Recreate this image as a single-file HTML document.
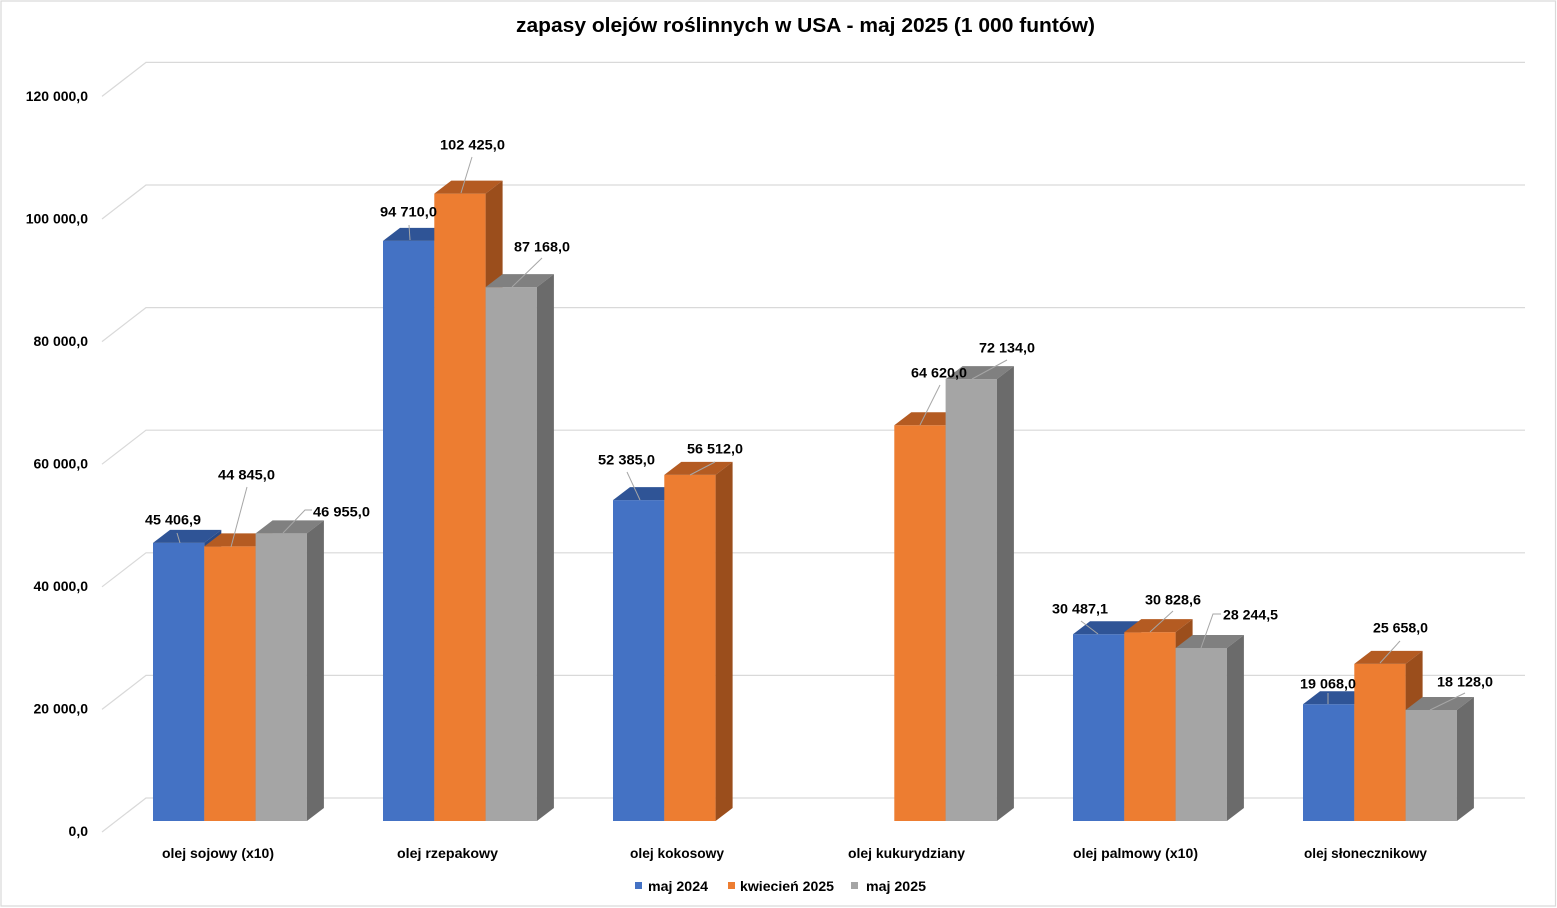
<!DOCTYPE html>
<html>
<head>
<meta charset="utf-8">
<style>
  html,body{margin:0;padding:0;background:#fff;}
  svg{display:block;}
  text{font-family:"Liberation Sans","DejaVu Sans",sans-serif;font-weight:bold;fill:#000;}
</style>
</head>
<body>
<svg width="1557" height="908" viewBox="0 0 1557 908" xmlns="http://www.w3.org/2000/svg">
  <rect x="0" y="0" width="1557" height="908" fill="#fff"/>
  <rect x="1" y="1" width="1554.5" height="905" fill="none" stroke="#D9D9D9" stroke-width="1.2"/>

  <!-- Title -->
  <text x="516" y="32" font-size="20" textLength="579" lengthAdjust="spacingAndGlyphs">zapasy olejów roślinnych w USA - maj 2025 (1 000 funtów)</text>

  <!-- Gridlines -->
  <g stroke="#D9D9D9" stroke-width="1.2" fill="none">
    <polyline points="102,832 146,798 1525,798"/>
    <polyline points="102,709.4 146,675.4 1525,675.4"/>
    <polyline points="102,586.8 146,552.8 1525,552.8"/>
    <polyline points="102,464.2 146,430.2 1525,430.2"/>
    <polyline points="102,341.6 146,307.6 1525,307.6"/>
    <polyline points="102,219 146,185 1525,185"/>
    <polyline points="102,96.4 146,62.4 1525,62.4"/>
  </g>

  <!-- Y axis labels -->
  <g font-size="14" text-anchor="end">
    <text x="88" y="101">120 000,0</text>
    <text x="88" y="223.5">100 000,0</text>
    <text x="88" y="346">80 000,0</text>
    <text x="88" y="468.5">60 000,0</text>
    <text x="88" y="591">40 000,0</text>
    <text x="88" y="713.5">20 000,0</text>
    <text x="88" y="836">0,0</text>
  </g>

  <!-- Bars -->
  <g id="bars"></g>

  <!-- Leader lines -->
  <g stroke="#A6A6A6" stroke-width="1" fill="none">
    <polyline points="177,533 180,543"/>
    <polyline points="247,487 231,547"/>
    <polyline points="312,510 305,510 283,533"/>
    <polyline points="409,225 410,240"/>
    <polyline points="472,157 461,193"/>
    <polyline points="542,258 512,287"/>
    <polyline points="627,472 640,500"/>
    <polyline points="715,462 690,475"/>
    <polyline points="940,385 920,425"/>
    <polyline points="1007,360 972,379"/>
    <polyline points="1081,621 1098,634"/>
    <polyline points="1173,611 1150,632"/>
    <polyline points="1221,614 1213,614 1201,648"/>
    <polyline points="1328,693 1328,704"/>
    <polyline points="1400,641 1380,663"/>
    <polyline points="1465,693 1430,710"/>
  </g>

  <!-- Data labels -->
  <g font-size="14" lengthAdjust="spacingAndGlyphs">
    <text x="145" y="524.5" textLength="56" lengthAdjust="spacingAndGlyphs">45 406,9</text>
    <text x="218" y="479.5" textLength="57" lengthAdjust="spacingAndGlyphs">44 845,0</text>
    <text x="313" y="516.5" textLength="57" lengthAdjust="spacingAndGlyphs">46 955,0</text>
    <text x="380" y="216.5" textLength="57" lengthAdjust="spacingAndGlyphs">94 710,0</text>
    <text x="440" y="149.5" textLength="65" lengthAdjust="spacingAndGlyphs">102 425,0</text>
    <text x="514" y="251.5" textLength="56" lengthAdjust="spacingAndGlyphs">87 168,0</text>
    <text x="598" y="464.5" textLength="57" lengthAdjust="spacingAndGlyphs">52 385,0</text>
    <text x="687" y="453.5" textLength="56" lengthAdjust="spacingAndGlyphs">56 512,0</text>
    <text x="911" y="377.5" textLength="56" lengthAdjust="spacingAndGlyphs">64 620,0</text>
    <text x="979" y="352.5" textLength="56" lengthAdjust="spacingAndGlyphs">72 134,0</text>
    <text x="1052" y="613.5" textLength="56" lengthAdjust="spacingAndGlyphs">30 487,1</text>
    <text x="1145" y="604.5" textLength="56" lengthAdjust="spacingAndGlyphs">30 828,6</text>
    <text x="1223" y="619.5" textLength="55" lengthAdjust="spacingAndGlyphs">28 244,5</text>
    <text x="1300" y="688.5" textLength="56" lengthAdjust="spacingAndGlyphs">19 068,0</text>
    <text x="1373" y="632.5" textLength="55" lengthAdjust="spacingAndGlyphs">25 658,0</text>
    <text x="1437" y="686.5" textLength="56" lengthAdjust="spacingAndGlyphs">18 128,0</text>
  </g>

  <!-- Category labels -->
  <g font-size="14">
    <text x="162" y="858" textLength="112" lengthAdjust="spacingAndGlyphs">olej sojowy (x10)</text>
    <text x="397" y="858" textLength="101" lengthAdjust="spacingAndGlyphs">olej rzepakowy</text>
    <text x="630" y="858" textLength="94" lengthAdjust="spacingAndGlyphs">olej kokosowy</text>
    <text x="848" y="858" textLength="117" lengthAdjust="spacingAndGlyphs">olej kukurydziany</text>
    <text x="1073" y="858" textLength="125" lengthAdjust="spacingAndGlyphs">olej palmowy (x10)</text>
    <text x="1304" y="858" textLength="123" lengthAdjust="spacingAndGlyphs">olej słonecznikowy</text>
  </g>

  <!-- Legend -->
  <rect x="635" y="882" width="7" height="7" fill="#4472C4"/>
  <text x="648" y="891" font-size="14" textLength="60" lengthAdjust="spacingAndGlyphs">maj 2024</text>
  <rect x="728" y="882" width="7" height="7" fill="#ED7D31"/>
  <text x="740" y="891" font-size="14" textLength="94" lengthAdjust="spacingAndGlyphs">kwiecień 2025</text>
  <rect x="851" y="882" width="7" height="7" fill="#A5A5A5"/>
  <text x="866" y="891" font-size="14" textLength="60" lengthAdjust="spacingAndGlyphs">maj 2025</text>
</svg>
<script>
(function(){
  var NS="http://www.w3.org/2000/svg";
  var g=document.getElementById("bars");
  var base=821, scale=0.006125, w=51.3, dx=17, dy=-13;
  var cols=[
    {f:"#4472C4",t:"#2F5496",s:"#294A86"},
    {f:"#ED7D31",t:"#B45B22",s:"#9B4E1C"},
    {f:"#A5A5A5",t:"#808080",s:"#6B6B6B"}
  ];
  var data=[
    [45406.9,44845,46955],
    [94710,102425,87168],
    [52385,56512,null],
    [null,64620,72134],
    [30487.1,30828.6,28244.5],
    [19068,25658,18128]
  ];
  function poly(pts,fill){
    var p=document.createElementNS(NS,"polygon");
    p.setAttribute("points",pts.map(function(a){return a[0].toFixed(2)+","+a[1].toFixed(2);}).join(" "));
    p.setAttribute("fill",fill);
    g.appendChild(p);
  }
  for(var k=0;k<data.length;k++){
    var gx=153+k*230;
    for(var i=0;i<3;i++){
      var v=data[k][i];
      if(v===null) continue;
      var x0=gx+i*w, x1=x0+w;
      var yt=base-v*scale;
      var c=cols[i];
      // front
      poly([[x0,yt],[x1,yt],[x1,base],[x0,base]],c.f);
      // top
      poly([[x0,yt],[x1,yt],[x1+dx,yt+dy],[x0+dx,yt+dy]],c.t);
      // side
      poly([[x1,yt],[x1+dx,yt+dy],[x1+dx,base+dy],[x1,base]],c.s);
    }
  }
})();
</script>
</body>
</html>
